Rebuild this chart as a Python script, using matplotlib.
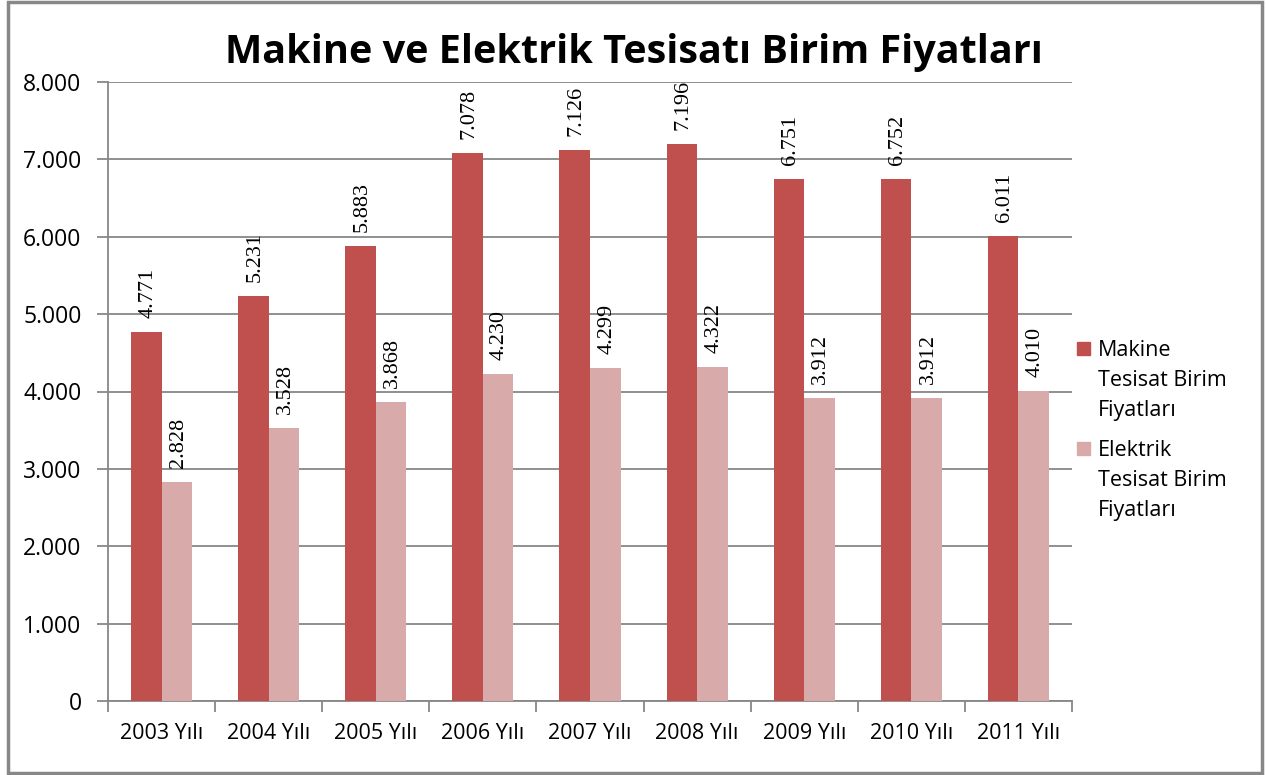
import numpy as np
import matplotlib.pyplot as plt
from matplotlib.patches import Rectangle
from matplotlib.ticker import FuncFormatter, FixedLocator

plt.rcParams['font.family'] = ['Open Sans', 'DejaVu Sans']

years = ["2003 Yılı", "2004 Yılı", "2005 Yılı", "2006 Yılı", "2007 Yılı",
         "2008 Yılı", "2009 Yılı", "2010 Yılı", "2011 Yılı"]
makine = [4771, 5231, 5883, 7078, 7126, 7196, 6751, 6752, 6011]
elektrik = [2828, 3528, 3868, 4230, 4299, 4322, 3912, 3912, 4010]

series_names = [["Makine", "Tesisat Birim", "Fiyatları"],
                ["Elektrik", "Tesisat Birim", "Fiyatları"]]
colors = ["#C0504D", "#D9AAAA"]


def tr_fmt(v):
    # thousands with a dot, turkish style
    return f"{int(round(v)):,}".replace(",", ".")


W, H = 1266, 775
fig = plt.figure(figsize=(W / 100, H / 100), dpi=100)
ax = fig.add_axes([108 / W, 1 - 701 / H, 964 / W, 619 / H])

x = np.arange(len(years))
w = 0.285
b1 = ax.bar(x - w / 2, makine, w, color=colors[0], zorder=3)
b2 = ax.bar(x + w / 2, elektrik, w, color=colors[1], zorder=3)

for bars, vals in ((b1, makine), (b2, elektrik)):
    for r, v in zip(bars, vals):
        ax.annotate(tr_fmt(v), (r.get_x() + r.get_width() / 2, r.get_height()),
                    xytext=(1, 10), textcoords="offset points", rotation=90,
                    ha="center", va="bottom", fontsize=16,
                    family=["Liberation Serif"], color="black")

ax.set_xlim(-0.5, len(years) - 0.5)
ax.set_ylim(0, 8000)
ax.set_yticks(np.arange(0, 8001, 1000))
ax.yaxis.set_major_formatter(FuncFormatter(lambda v, p: tr_fmt(v)))
ax.grid(axis="y", color="#878787", linewidth=1.3, zorder=0)

ax.set_xticks(x)
ax.set_xticklabels(years)
ax.xaxis.set_minor_locator(FixedLocator(np.arange(-0.5, len(years), 1.0)))
ax.tick_params(axis="x", which="major", length=0, pad=16, labelsize=15.5)
ax.tick_params(axis="x", which="minor", length=8, color="#878787", width=1.3)
ax.tick_params(axis="y", length=8, color="#878787", width=1.3, labelsize=16.5, pad=11)

for s in ("top", "right"):
    ax.spines[s].set_visible(False)
for s in ("left", "bottom"):
    ax.spines[s].set_color("#878787")
    ax.spines[s].set_linewidth(1.3)

fig.text(0.501, 1 - 52 / H, "Makine ve Elektrik Tesisatı Birim Fiyatları",
         ha="center", va="center", fontsize=28.5, fontweight="bold")

# legend, square next to the first line like in excel
for k, lines in enumerate(series_names):
    top = 342 + k * 100
    fig.patches.append(Rectangle((1077 / W, 1 - (top + 13) / H), 13 / W, 13 / H,
                                 transform=fig.transFigure, color=colors[k]))
    for j, line in enumerate(lines):
        fig.text(1098 / W, 1 - (top + 14 + 30 * j) / H, line,
                 ha="left", va="baseline", fontsize=15.5)

fig.patches.append(Rectangle((0.006, 0.003), 0.991, 0.994, transform=fig.transFigure,
                             fill=False, edgecolor="#878787", linewidth=2.5))

fig.savefig("out.png", dpi=100)
